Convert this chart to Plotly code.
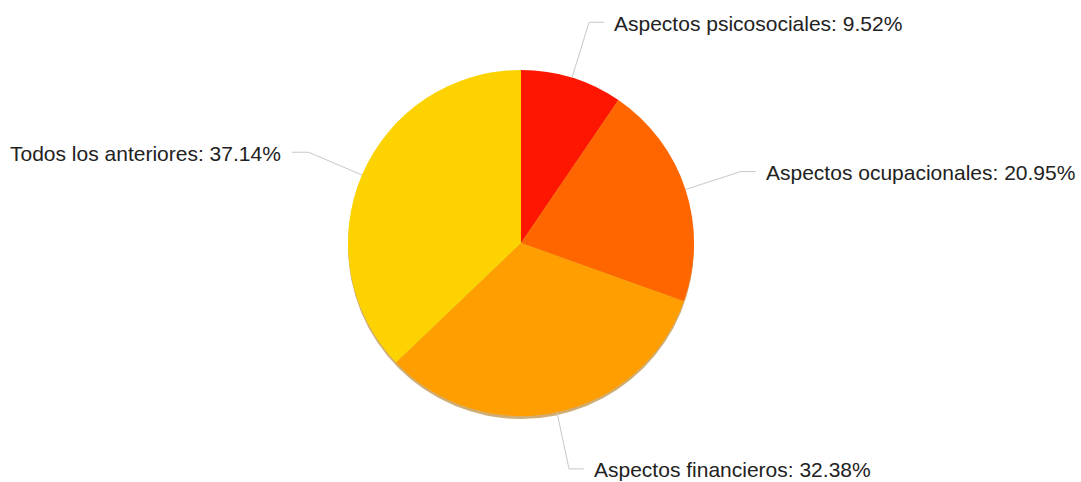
import math
import plotly.graph_objects as go

# Survey answers: share of responses per category (percent)
categories = [
    "Aspectos psicosociales",
    "Aspectos ocupacionales",
    "Aspectos financieros",
    "Todos los anteriores",
]
shares = [9.52, 20.95, 32.38, 37.14]
colors = ["#FF1600", "#FF6600", "#FF9E00", "#FCD200"]

W, H = 1081, 482
CX, CY, R = 521, 243, 173          # pie centre and radius (px)
SHADOW_DY = 3                        # drop-shadow offset (px)


def px_to_paper(px, py):
    return px / W, 1 - py / H


def domain(cx, cy, r):
    x0, y1 = px_to_paper(cx - r, cy - r)
    x1, y0 = px_to_paper(cx + r, cy + r)
    return dict(x=[x0, x1], y=[y0, y1])


fig = go.Figure()

# soft shadow under the pie
fig.add_trace(go.Pie(
    values=[1],
    marker=dict(colors=["rgba(170,105,0,0.55)"], line=dict(width=0)),
    textinfo="none", hoverinfo="skip", sort=False, showlegend=False,
    domain=domain(CX, CY + SHADOW_DY, R),
))

fig.add_trace(go.Pie(
    labels=categories,
    values=shares,
    marker=dict(colors=colors, line=dict(width=0)),
    textinfo="none",
    sort=False,
    direction="clockwise",
    rotation=0,
    showlegend=False,
    hovertemplate="%{label}: %{value:.2f}%<extra></extra>",
    domain=domain(CX, CY, R),
))

# leader lines and outside labels, placed at each slice's mid-angle
total = sum(shares)
shapes, annotations = [], []
cum = 0.0
for name, val in zip(categories, shares):
    mid = (cum + val / 2) / total * 2 * math.pi
    cum += val
    sx, cy_ = math.sin(mid), -math.cos(mid)
    p0 = (CX + R * sx, CY + R * cy_)
    p1 = (CX + R * 1.335 * sx, CY + R * 1.335 * cy_)
    right = sx >= 0
    p2 = (p1[0] + (15 if right else -17), p1[1])
    path = "M {} {} L {} {} L {} {}".format(
        *px_to_paper(*p0), *px_to_paper(*p1), *px_to_paper(*p2))
    shapes.append(dict(type="path", path=path, xref="paper", yref="paper",
                       line=dict(color="#c8c8c8", width=1)))
    tx, ty = px_to_paper(p2[0] + (8 if right else -9), p2[1] + 1)
    annotations.append(dict(
        x=tx, y=ty, xref="paper", yref="paper",
        text=f"{name}: {val:.2f}%", showarrow=False,
        xanchor="left" if right else "right", yanchor="middle",
        font=dict(family="Liberation Sans, Arial, sans-serif", size=21,
                  color="#222222"),
    ))

fig.update_layout(
    width=W, height=H,
    margin=dict(l=0, r=0, t=0, b=0),
    paper_bgcolor="white", plot_bgcolor="white",
    shapes=shapes, annotations=annotations,
)

fig.write_html("out.html")
